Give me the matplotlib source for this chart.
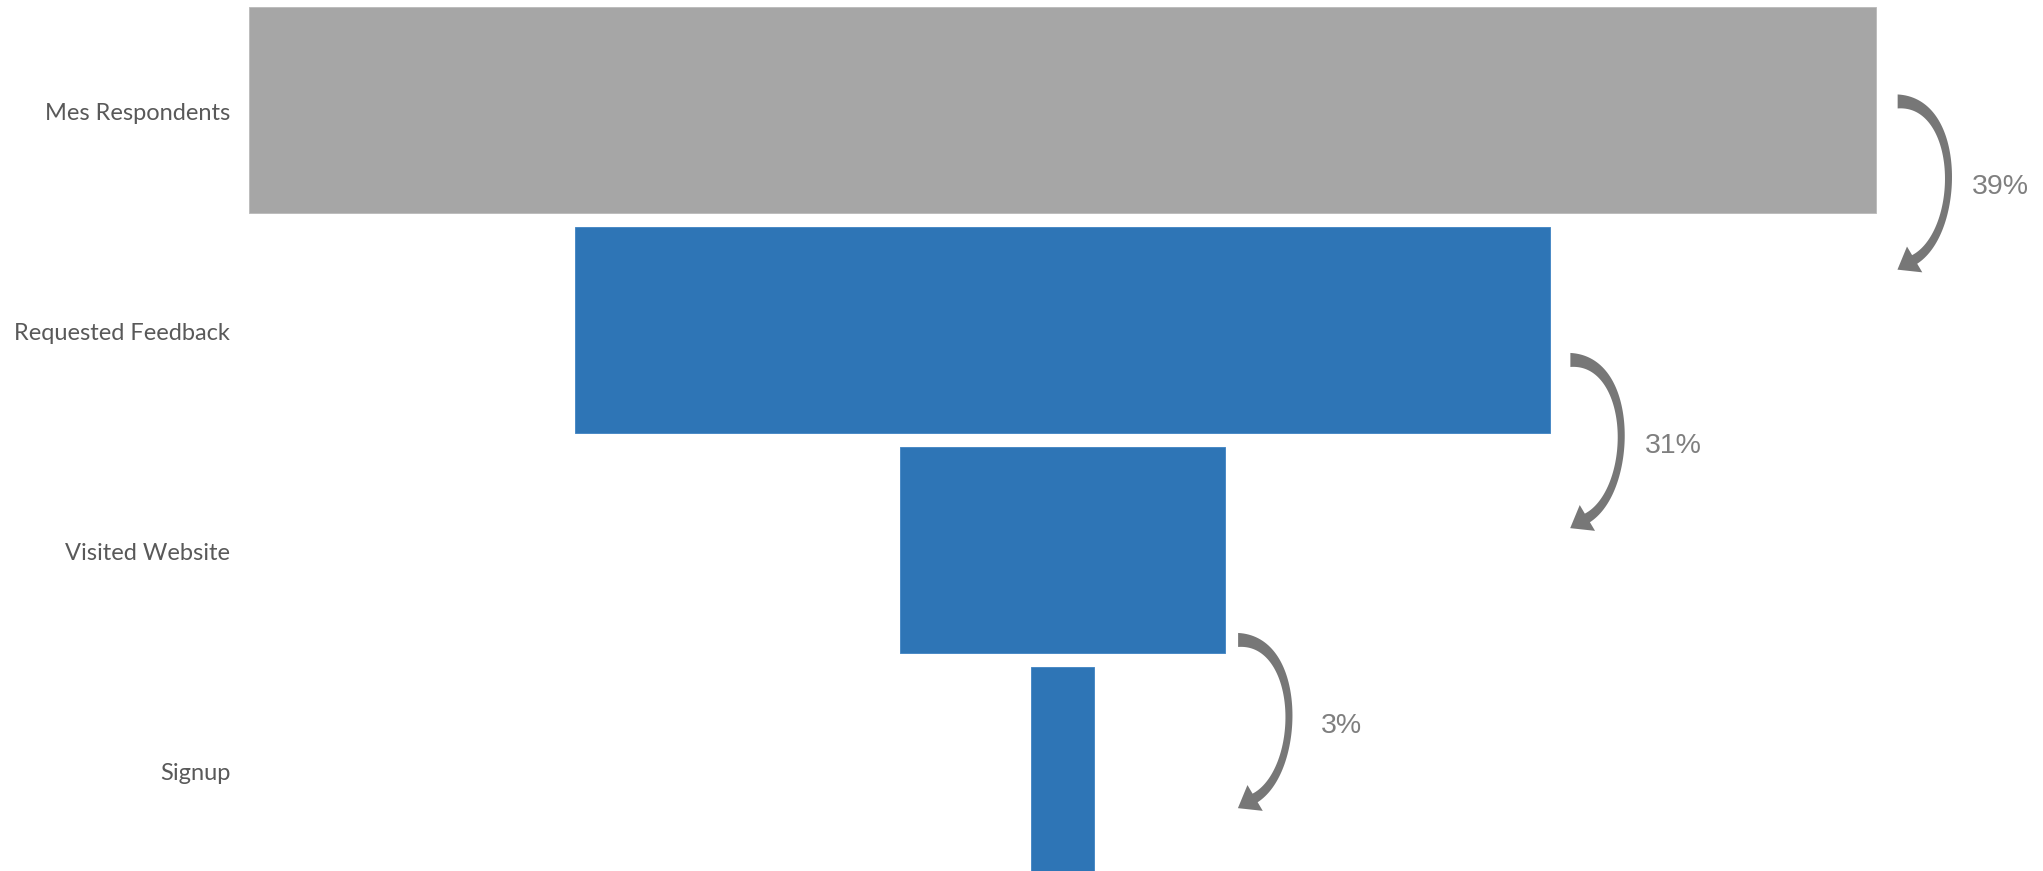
import matplotlib
matplotlib.use("Agg")
import matplotlib.pyplot as plt
import numpy as np
from matplotlib.patches import Polygon
from matplotlib.transforms import IdentityTransform

### data
stages = ["Mes Respondents", "Requested Feedback", "Visited Website", "Signup"]
values = [100, 60, 20, 3.9]          # share of respondents in %
drop_labels = ["39%", "31%", "3%"]
bar_colors = ["#a6a6a6", "#2e75b6", "#2e75b6", "#2e75b6"]
edge_colors = ["#bdbdbd", "#4a8ac6", "#4a8ac6", "#4a8ac6"]

W, H, DPI = 2043, 871, 100


def curved_arrow(ax, sx, sy, color="#777777"):
    """ tapered C-shaped arrow, sx/sy = start in image pixels (y down) """
    p0 = np.array([0.0, 0.0])
    p1 = np.array([65.0, 0.0])
    p3 = np.array([17.0, 158.0])
    d = np.array([-0.86, 0.51])
    d = d / np.linalg.norm(d)
    p2 = p3 - 55 * d

    t = np.linspace(0, 1, 80)[:, None]
    pts = (1-t)**3*p0 + 3*(1-t)**2*t*p1 + 3*(1-t)*t**2*p2 + t**3*p3
    der = 3*(1-t)**2*(p1-p0) + 6*(1-t)*t*(p2-p1) + 3*t**2*(p3-p2)
    tang = der / np.linalg.norm(der, axis=1)[:, None]
    nrm = np.column_stack([-tang[:, 1], tang[:, 0]])
    w = 14*(1-t)**2 + 4.5*t*(1-t) + 10*t**2

    left = pts + nrm*w/2
    right = pts - nrm*w/2
    n_end = nrm[-1]
    head = np.array([p3 + n_end*15, p3 + d*20, p3 - n_end*15])
    poly = np.vstack([left, head, right[::-1]])
    poly[:, 0] += sx
    poly[:, 1] = H - (poly[:, 1] + sy)
    ax.add_patch(Polygon(poly, closed=True, transform=IdentityTransform(),
                         facecolor=color, edgecolor="none"))


fig = plt.figure(figsize=(W/DPI, H/DPI), dpi=DPI)
ax = fig.add_axes([0, 0, 1, 1])
ax.set_xlim(-65.33, 60.29)
ax.set_ylim(3.457, -0.502)
ax.axis("off")

y = np.arange(len(stages))
v = np.array(values)
ax.barh(y, v, left=-v/2, height=0.936, color=bar_colors,
        edgecolor=edge_colors, linewidth=0.7)

# stage labels, right aligned next to the widest bar
for i, s in enumerate(stages):
    ax.annotate(s, xy=(-values[0]/2, i), xytext=(-19, -3), textcoords="offset pixels",
                ha="right", va="center", fontsize=17, color="#595959", family="Lato")

# drop-off arrows between stages
start_dx = [22, 20, 13]
start_dy = [-9, 29.5, 89.5]
fig.canvas.draw()
for i, lab in enumerate(drop_labels):
    xd, yd = ax.transData.transform((values[i]/2, i))
    sx = xd + start_dx[i]
    sy = (H - yd) + start_dy[i]
    curved_arrow(ax, sx, sy)
    ax.text(sx + 103, H - (sy + 86), lab, transform=IdentityTransform(),
            ha="center", va="center", fontsize=20.5, color="#7f7f7f",
            family="Liberation Sans")

fig.savefig("out.png", dpi=DPI)
